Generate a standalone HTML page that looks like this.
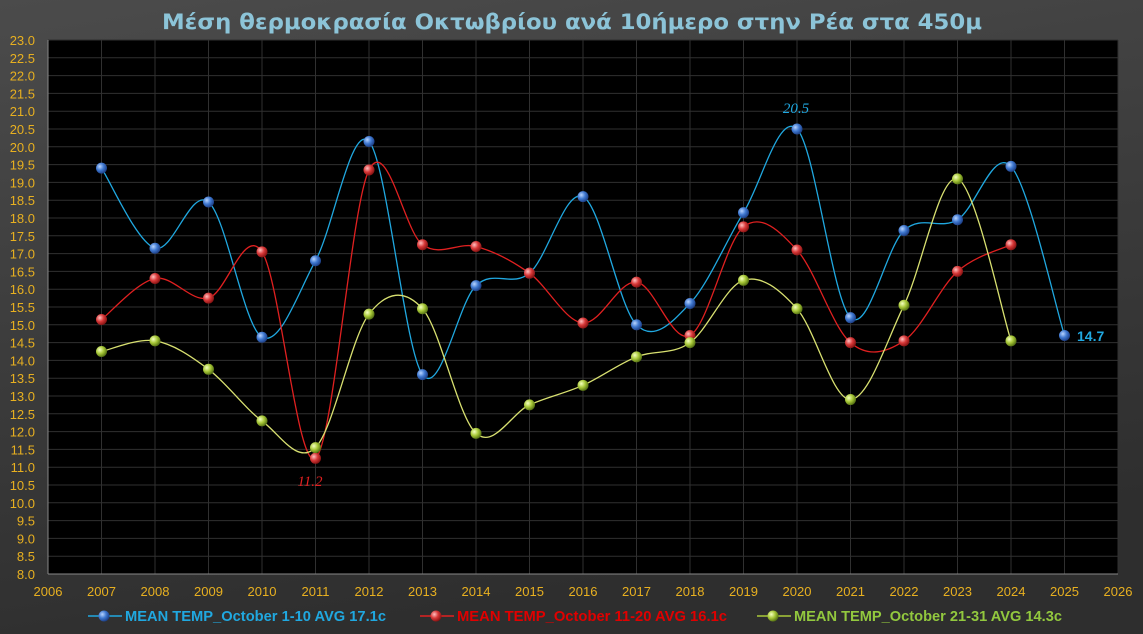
<!DOCTYPE html>
<html><head><meta charset="utf-8"><style>
html,body{margin:0;padding:0;width:1143px;height:634px;overflow:hidden;background:#3a3a3a}
</style></head><body>
<svg id="s" width="1143" height="634" xmlns="http://www.w3.org/2000/svg" style="display:block">
<defs>
<linearGradient id="bg" x1="0" y1="0" x2="0.3" y2="1">
<stop offset="0" stop-color="#4b4b4b"/><stop offset="1" stop-color="#2e2e2e"/></linearGradient>
<radialGradient id="gb" cx="0.35" cy="0.35" r="0.7"><stop offset="0" stop-color="#b8d4ff"/><stop offset="0.5" stop-color="#3f78d0"/><stop offset="1" stop-color="#1a3a80"/></radialGradient>
<radialGradient id="gr" cx="0.35" cy="0.35" r="0.7"><stop offset="0" stop-color="#ffc0c0"/><stop offset="0.5" stop-color="#d83838"/><stop offset="1" stop-color="#801010"/></radialGradient>
<radialGradient id="gg" cx="0.35" cy="0.35" r="0.7"><stop offset="0" stop-color="#f4ffc0"/><stop offset="0.5" stop-color="#a8c838"/><stop offset="1" stop-color="#4e6a10"/></radialGradient>
</defs>
<rect width="1143" height="634" fill="url(#bg)"/>
<text x="572" y="29" text-anchor="middle" font-family="DejaVu Sans, sans-serif" font-size="21" font-weight="bold" fill="#8cc4d8" textLength="820" lengthAdjust="spacingAndGlyphs">Μέση  θερμοκρασία Οκτωβρίου ανά 10ήμερο στην Ρέα στα 450μ</text>
<rect x="48" y="40" width="1070" height="534" fill="#000"/>
<g id="grid"></g>
<g id="series"></g>
<text x="310" y="486" text-anchor="middle" font-family="Liberation Serif, serif" font-style="italic" font-size="15" fill="#e02020">11.2</text>
<text x="796" y="113" text-anchor="middle" font-family="Liberation Serif, serif" font-style="italic" font-size="15" fill="#20a8e0">20.5</text>
<text x="1077" y="341" font-family="Liberation Sans, sans-serif" font-weight="bold" font-size="14" fill="#20a8e0">14.7</text>
<g font-family="Liberation Sans, sans-serif" font-weight="bold" font-size="15">
<line x1="88" y1="616" x2="122" y2="616" stroke="#20a8e0" stroke-width="1.5"/><circle cx="104" cy="616" r="5.5" fill="url(#gb)"/>
<text x="125" y="621" fill="#20a8e0" textLength="261" lengthAdjust="spacingAndGlyphs">MEAN TEMP_October 1-10 AVG 17.1c</text>
<line x1="420" y1="616" x2="454" y2="616" stroke="#e02020" stroke-width="1.5"/><circle cx="436" cy="616" r="5.5" fill="url(#gr)"/>
<text x="457" y="621" fill="#e00000" textLength="270" lengthAdjust="spacingAndGlyphs">MEAN TEMP_October 11-20 AVG 16.1c</text>
<line x1="757" y1="616" x2="791" y2="616" stroke="#a8c838" stroke-width="1.5"/><circle cx="773" cy="616" r="5.5" fill="url(#gg)"/>
<text x="794" y="621" fill="#92c83e" textLength="268" lengthAdjust="spacingAndGlyphs">MEAN TEMP_October 21-31 AVG 14.3c</text>
</g>
</svg>
<script>
const NS="http://www.w3.org/2000/svg";
const X0=48,X1=1118,Y0=574,Y1=40;
const xs=y=>X0+(y-2006)*(X1-X0)/20, ys=v=>Y0-(v-8)*(Y0-Y1)/15;
const g=document.getElementById('grid'),sv=document.getElementById('s');
function el(p,t,a,txt){const e=document.createElementNS(NS,t);for(const k in a)e.setAttribute(k,a[k]);if(txt)e.textContent=txt;p.appendChild(e);return e;}
for(let i=0;i<=30;i++){const v=8+i*0.5,y=ys(v);
 el(g,'line',{x1:X0,x2:X1,y1:y,y2:y,stroke:'#303030','stroke-width':1});
 el(sv,'text',{x:35,y:y+5,'text-anchor':'end','font-family':'Liberation Sans, sans-serif','font-size':13,fill:'#e8b020'},v.toFixed(1));}
for(let yr=2006;yr<=2026;yr++){const x=xs(yr);
 el(g,'line',{x1:x,x2:x,y1:Y1,y2:Y0,stroke:'#303030','stroke-width':1});
 el(sv,'text',{x:x,y:596,'text-anchor':'middle','font-family':'Liberation Sans, sans-serif','font-size':13,fill:'#e8b020'},yr);}
el(g,'line',{x1:X0,x2:X0,y1:Y1,y2:Y0,stroke:'#888'});
el(g,'line',{x1:X0,x2:X1,y1:Y0,y2:Y0,stroke:'#888'});
const data=[
 ['#20a8e0','gb',[19.4,17.15,18.45,14.65,16.8,20.15,13.6,16.1,16.45,18.6,15.0,15.6,18.15,20.5,15.2,17.65,17.95,19.45,14.7]],
 ['#e02020','gr',[15.15,16.3,15.75,17.05,11.25,19.35,17.25,17.2,16.45,15.05,16.2,14.7,17.75,17.1,14.5,14.55,16.5,17.25]],
 ['#d8e070','gg',[14.25,14.55,13.75,12.3,11.55,15.3,15.45,11.95,12.75,13.3,14.1,14.5,16.25,15.45,12.9,15.55,19.1,14.55]]];
const s=document.getElementById('series');
for(const [c,gr,d] of data){
 const p=d.map((v,i)=>[xs(2007+i),ys(v)]);
 let path=`M${p[0][0]},${p[0][1]}`;
 for(let i=0;i<p.length-1;i++){const a=p[i-1]||p[i],b=p[i],c2=p[i+1],e=p[i+2]||c2,t=0.5/3;
  path+=` C${b[0]+(c2[0]-a[0])*t},${b[1]+(c2[1]-a[1])*t} ${c2[0]-(e[0]-b[0])*t},${c2[1]-(e[1]-b[1])*t} ${c2[0]},${c2[1]}`;}
 el(s,'path',{d:path,fill:'none',stroke:c,'stroke-width':1.3});
 for(const q of p) el(s,'circle',{cx:q[0],cy:q[1],r:5.5,fill:`url(#${gr})`});
}
</script>
</body></html>
